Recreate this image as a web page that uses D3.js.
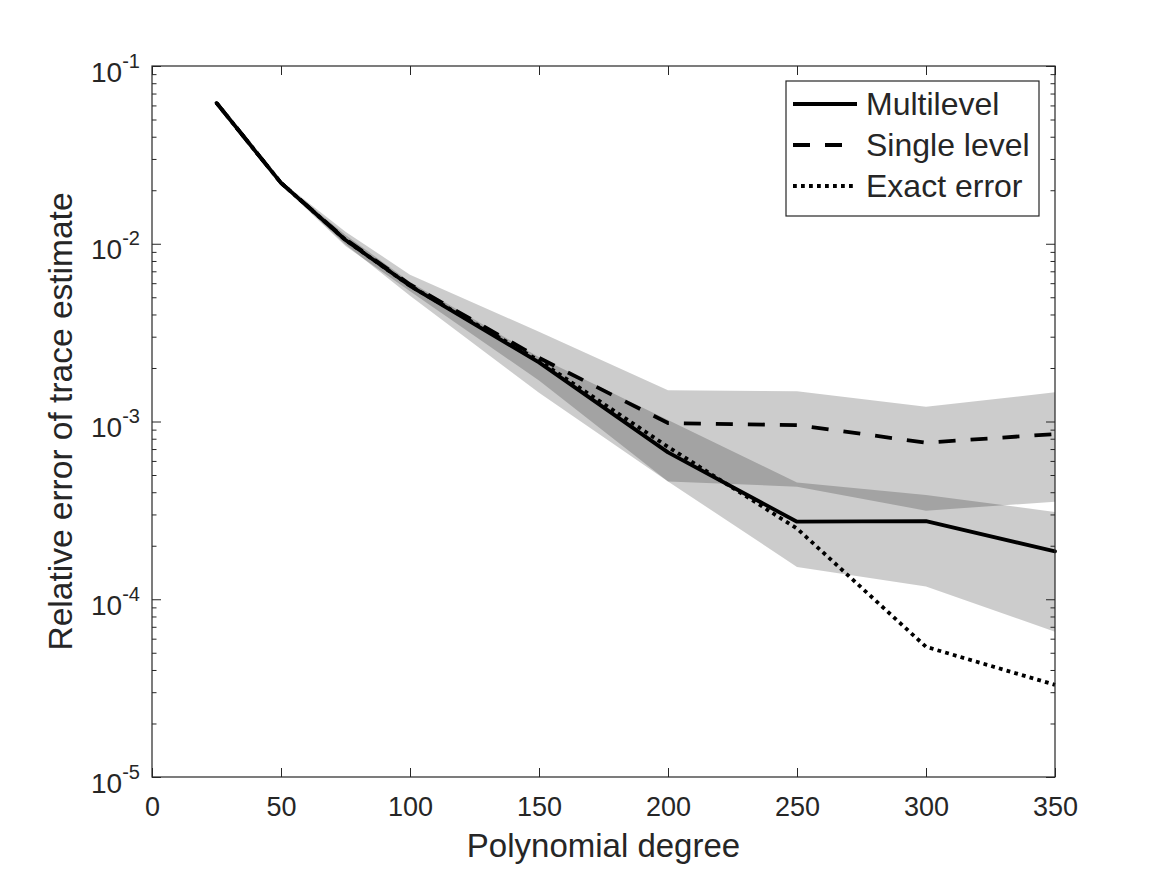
<!DOCTYPE html>
<html>
<head>
<meta charset="utf-8">
<script src="https://cdn.jsdelivr.net/npm/d3@7"></script>
<style>
  body { margin: 0; background: #fff; }
  text { font-family: "Liberation Sans", Arial, Helvetica, sans-serif; fill: #262626; }
</style>
</head>
<body>
<div id="chart"></div>
<script>
// polynomial degrees
const degrees = [25, 50, 75, 100, 150, 200, 250, 300, 350];

// mean relative errors
const multilevel  = [0.062, 0.022, 0.0105, 0.0058, 0.00215, 0.00067, 0.000273, 0.000275, 0.000186];
const singleLevel = [0.062, 0.022, 0.0106, 0.0059, 0.00228, 0.00098, 0.000955, 0.00076, 0.00085];
const exactError  = [0.062, 0.022, 0.0105, 0.0058, 0.0022, 0.00072, 0.00025, 0.000054, 0.000033];

// shaded ranges
const singleUpper = [0.062, 0.0225, 0.0117, 0.0067, 0.0032, 0.0015, 0.00148, 0.00121, 0.00146];
const singleLower = [0.062, 0.0215, 0.0097, 0.0054, 0.0017, 0.00046, 0.00043, 0.000315, 0.000354];
const multiUpper  = [0.062, 0.0223, 0.0112, 0.0061, 0.0023, 0.00102, 0.000454, 0.000386, 0.00031];
const multiLower  = [0.062, 0.0217, 0.0099, 0.0051, 0.00145, 0.00046, 0.000152, 0.000118, 0.0000656];

const xTicks = [0, 50, 100, 150, 200, 250, 300, 350];
const yTicks = [1e-5, 1e-4, 1e-3, 1e-2, 1e-1];
const yExponents = ["-5", "-4", "-3", "-2", "-1"];
const legendLabels = ["Multilevel", "Single level", "Exact error"];

let width = 1167;
let height = 875;
let margin = ({ top: 66, right: 112, bottom: 98, left: 152 });

let color = {
  axis: '#262626',
  line: '#000'
};

let x = d3.scaleLinear()
  .domain([0, 350])
  .range([margin.left, width - margin.right]);

let y = d3.scaleLog()
  .domain([1e-5, 1e-1])
  .range([height - margin.bottom, margin.top]);

const svg = d3.select("#chart").append("svg")
  .attr('width', width)
  .attr('height', height);

// bands
let band = (lo, hi) => d3.area()
  .x((d, i) => x(degrees[i]))
  .y0((d, i) => y(lo[i]))
  .y1((d, i) => y(hi[i]));

svg.append('path')
  .datum(degrees)
  .attr('d', band(singleLower, singleUpper))
  .attr('fill', '#000')
  .attr('fill-opacity', 0.2);

svg.append('path')
  .datum(degrees)
  .attr('d', band(multiLower, multiUpper))
  .attr('fill', '#000')
  .attr('fill-opacity', 0.2);

// lines
let line = vals => d3.line()
  .x((d, i) => x(degrees[i]))
  .y((d, i) => y(vals[i]));

const series = [
  { vals: multilevel, dash: null, cap: 'round' },
  { vals: singleLevel, dash: '17,15', cap: 'butt' },
  { vals: exactError, dash: '3.8,4.2', cap: 'butt' }
];

series.forEach(s => {
  svg.append('path')
    .datum(degrees)
    .attr('d', line(s.vals))
    .attr('fill', 'none')
    .attr('stroke', color.line)
    .attr('stroke-width', 3.8)
    .attr('stroke-linejoin', 'round')
    .attr('stroke-linecap', s.cap)
    .attr('stroke-dasharray', s.dash);
});

// minor tick values for log axis
let minorTicks = [];
yTicks.slice(0, -1).forEach(t => {
  for (let k = 2; k <= 9; k++) minorTicks.push(t * k);
});

let styleAxis = g => {
  g.select('.domain').remove();
  g.selectAll('line').attr('stroke', color.axis);
};

// x axis bottom + top
svg.append('g')
  .attr('transform', `translate(0,${height - margin.bottom})`)
  .call(d3.axisBottom(x).tickValues(xTicks).tickSize(-9).tickPadding(20))
  .call(styleAxis)
  .selectAll('text')
  .attr('font-size', 27)
  .attr('fill', color.axis);

svg.append('g')
  .attr('transform', `translate(0,${margin.top})`)
  .call(d3.axisTop(x).tickValues(xTicks).tickSize(-9).tickFormat(''))
  .call(styleAxis);

// y axis left + right, major and minor
[[d3.axisLeft, margin.left], [d3.axisRight, width - margin.right]].forEach(([ax, pos]) => {
  svg.append('g')
    .attr('transform', `translate(${pos},0)`)
    .call(ax(y).tickValues(yTicks).tickSize(-9).tickFormat(''))
    .call(styleAxis);
  svg.append('g')
    .attr('transform', `translate(${pos},0)`)
    .call(ax(y).tickValues(minorTicks).tickSize(-4.5).tickFormat(''))
    .call(styleAxis);
});

// y tick labels 10^n
const yLab = svg.append('g')
  .selectAll('text')
  .data(yTicks)
  .enter().append('text')
  .attr('x', margin.left - 12)
  .attr('y', d => y(d) + 15.5)
  .attr('text-anchor', 'end')
  .attr('font-size', 28);
yLab.append('tspan').text('10');
yLab.append('tspan')
  .attr('dy', -14)
  .attr('font-size', 20)
  .text((d, i) => yExponents[i]);

// frame
svg.append('rect')
  .attr('x', margin.left)
  .attr('y', margin.top)
  .attr('width', width - margin.left - margin.right)
  .attr('height', height - margin.top - margin.bottom)
  .attr('fill', 'none')
  .attr('stroke', color.axis)
  .attr('stroke-width', 1.2);

// axis titles
svg.append('text')
  .attr('x', (margin.left + width - margin.right) / 2)
  .attr('y', 857)
  .attr('text-anchor', 'middle')
  .attr('font-size', 33)
  .text('Polynomial degree');

svg.append('text')
  .attr('transform', `translate(72,${(margin.top + height - margin.bottom) / 2}) rotate(-90)`)
  .attr('text-anchor', 'middle')
  .attr('font-size', 33.5)
  .text('Relative error of trace estimate');

// legend
const legend = svg.append('g');
legend.append('rect')
  .attr('x', 786)
  .attr('y', 81)
  .attr('width', 253)
  .attr('height', 135)
  .attr('fill', '#fff')
  .attr('stroke', color.axis)
  .attr('stroke-width', 1.2);

legendLabels.forEach((lab, i) => {
  let cy = 104 + i * 41;
  legend.append('line')
    .attr('x1', 793)
    .attr('x2', 857)
    .attr('y1', cy)
    .attr('y2', cy)
    .attr('stroke', color.line)
    .attr('stroke-width', 3.8)
    .attr('stroke-dasharray', series[i].dash);
  legend.append('text')
    .attr('x', 866)
    .attr('y', cy + 11)
    .attr('font-size', 32)
    .attr('fill', '#000')
    .text(lab);
});
</script>
</body>
</html>
